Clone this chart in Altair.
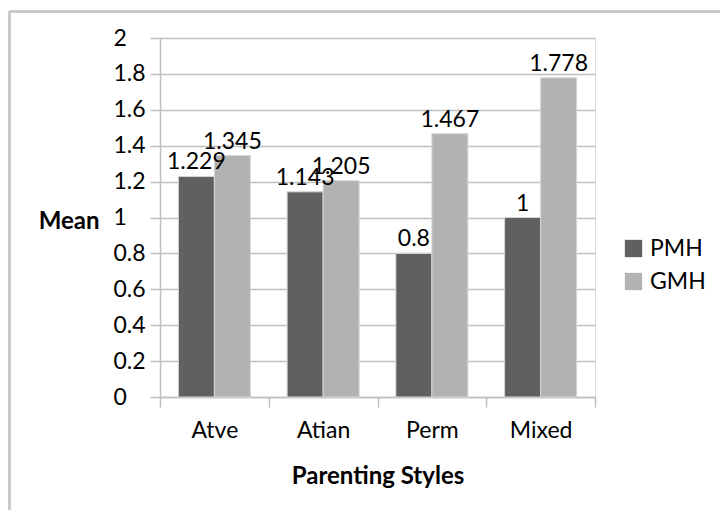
import altair as alt
import pandas as pd

# Mean scores by parenting style for the two groups
styles = ["Atve", "Atian", "Perm", "Mixed"]
groups = ["PMH", "GMH"]
pmh = [1.229, 1.143, 0.8, 1.0]
gmh = [1.345, 1.205, 1.467, 1.778]
group_colors = ["#606060", "#b2b2b2"]
y_ticks = [0, 0.2, 0.4, 0.6, 0.8, 1.0, 1.2, 1.4, 1.6, 1.8, 2.0]

rows = []
for i, s in enumerate(styles):
    rows.append({"Style": s, "Group": "PMH", "Mean": pmh[i]})
    rows.append({"Style": s, "Group": "GMH", "Mean": gmh[i]})
df = pd.DataFrame(rows)

FONT = "Lato"
GRID = "#bfbfbf"
TXT = 23
BOLD = 24

x_enc = alt.X(
    "Style:N",
    sort=styles,
    scale=alt.Scale(paddingInner=0, paddingOuter=0),
    axis=alt.Axis(
        title="Parenting Styles",
        labelAngle=0,
        labelFontSize=TXT,
        labelFont=FONT,
        labelColor="black",
        labelBaseline="alphabetic",
        labelPadding=30,
        tickBand="extent",
        tickSize=10,
        tickColor=GRID,
        tickWidth=1.5,
        domainColor=GRID,
        domainWidth=1.5,
        titleFont=FONT,
        titleFontSize=BOLD,
        titleFontWeight="bold",
        titleColor="black",
        titleBaseline="alphabetic",
        titleX=217.5,
        titleY=86,
        grid=False,
    ),
)

y_enc = alt.Y(
    "Mean:Q",
    scale=alt.Scale(domain=[0, 2], nice=False),
    axis=alt.Axis(
        title="Mean",
        values=y_ticks,
        tickCount=len(y_ticks),
        format="~g",
        labelOverlap=False,
        labelFontSize=TXT,
        labelFont=FONT,
        labelColor="black",
        labelAlign="left",
        labelBaseline="middle",
        labelPadding=37,
        tickSize=10,
        tickColor=GRID,
        tickWidth=1.5,
        domainColor=GRID,
        domainWidth=1.5,
        gridColor=GRID,
        gridWidth=1.5,
        titleFont=FONT,
        titleFontSize=BOLD,
        titleFontWeight="bold",
        titleColor="black",
        titleAngle=0,
        titleAlign="right",
        titleBaseline="alphabetic",
        titleX=-61,
        titleY=190,
    ),
)

color_enc = alt.Color(
    "Group:N",
    sort=groups,
    scale=alt.Scale(domain=groups, range=group_colors),
    legend=alt.Legend(
        title=None,
        orient="none",
        legendX=462,
        legendY=199,
        symbolType="square",
        symbolSize=300,
        symbolStrokeWidth=0,
        labelFont=FONT,
        labelFontSize=TXT,
        labelColor="black",
        labelOffset=5,
        rowPadding=9,
        padding=0,
    ),
)

# the pair of bars fills the middle two thirds of each category slot
offset_enc = alt.XOffset(
    "Group:N", sort=groups, scale=alt.Scale(paddingInner=0, paddingOuter=0.51)
)

base = alt.Chart(df)

bars = base.mark_bar(stroke="#d6d6d6", strokeWidth=1).encode(
    x=x_enc,
    xOffset=offset_enc,
    y=y_enc,
    color=color_enc,
)

labels = base.mark_text(
    font=FONT, fontSize=TXT, color="black", baseline="alphabetic", dy=-7
).encode(
    x=alt.X("Style:N", sort=styles),
    xOffset=offset_enc,
    y="Mean:Q",
    text=alt.Text("Mean:Q", format="~g"),
)

# outer frame lines along the top and left of the chart
frame_left = alt.Chart(df).mark_rule(color="#c8c8c8", strokeWidth=1.5).encode(
    x=alt.value(-150.5), y=alt.value(-26.5), y2=alt.value(480)
)
frame_top = alt.Chart(df).mark_rule(color="#c8c8c8", strokeWidth=1.5).encode(
    x=alt.value(-150.5), x2=alt.value(570), y=alt.value(-26.5)
)

chart = (
    alt.layer(bars, labels, frame_left, frame_top)
    .properties(
        width=435,
        height=359,
        autosize=alt.AutoSizeParams(type="none"),
        padding={"left": 160, "top": 38, "right": 125, "bottom": 113},
    )
    .configure_view(stroke=None)
    .configure(background="white")
)

chart.save("out.html", embed_options={"renderer": "svg", "actions": False})
